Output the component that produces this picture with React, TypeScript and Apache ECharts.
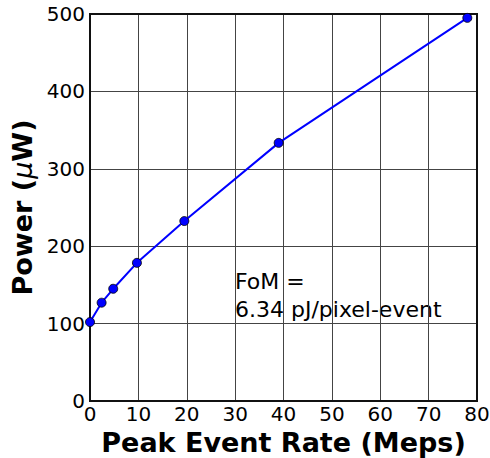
import React, { useEffect, useRef } from "react";
import * as echarts from "echarts";

const rates = [0, 2.4, 4.8, 9.7, 19.5, 39, 78];
const powers = [102, 127, 145, 178.5, 232.5, 333.5, 495];
const xTicks = { min: 0, max: 80, interval: 10 };
const yTicks = { min: 0, max: 500, interval: 100 };
const xLabel = "Peak Event Rate (Meps)";
const annotationLines = ["FoM =", "6.34 pJ/pixel-event"];

const FONT = "DejaVu Sans";

export default function App() {
  const ref = useRef<HTMLDivElement>(null);
  useEffect(() => {
    if (!ref.current) return;
    const chart = echarts.init(ref.current, undefined, { renderer: "svg" });
    chart.setOption({
      animation: false,
      backgroundColor: "#ffffff",
      grid: {
        left: 90,
        right: 13,
        top: 14,
        bottom: 57,
        containLabel: false,
        outerBoundsMode: "none",
        show: true,
        borderColor: "#111",
        borderWidth: 2,
        backgroundColor: "transparent",
        z: 10,
      },
      xAxis: {
        type: "value",
        min: xTicks.min,
        max: xTicks.max,
        interval: xTicks.interval,
        name: xLabel,
        nameLocation: "middle",
        nameGap: 25,
        nameTextStyle: { fontFamily: FONT, fontWeight: "bold", fontSize: 27, color: "#000" },
        axisLine: { show: false },
        axisTick: { show: false },
        axisLabel: { fontFamily: FONT, fontSize: 20, color: "#000", margin: 3 },
        splitLine: { show: true, lineStyle: { color: "#444", width: 1 } },
      },
      yAxis: {
        type: "value",
        min: yTicks.min,
        max: yTicks.max,
        interval: yTicks.interval,
        name: "{b|Power (}{i|μ}{b|W)}",
        nameLocation: "middle",
        nameGap: 49,
        nameRotate: 90,
        nameTextStyle: {
          rich: {
            b: { fontFamily: FONT, fontWeight: "bold", fontSize: 27, color: "#000" },
            i: { fontFamily: FONT, fontStyle: "italic", fontSize: 27, color: "#000" },
          },
        },
        axisLine: { show: false },
        axisTick: { show: false },
        axisLabel: { fontFamily: FONT, fontSize: 20, color: "#000", margin: 5 },
        splitLine: { show: true, lineStyle: { color: "#444", width: 1 } },
      },
      series: [
        {
          type: "line",
          data: rates.map((r, i) => [r, powers[i]]),
          lineStyle: { color: "#0000ff", width: 2 },
          symbol: "circle",
          symbolSize: 9,
          itemStyle: { color: "#0000ff", borderColor: "#000", borderWidth: 0.8 },
          clip: false,
          z: 20,
        },
      ],
      graphic: [
        {
          type: "text",
          left: 235,
          top: 267,
          style: {
            text: annotationLines.join("\n"),
            fontFamily: FONT,
            fontSize: 22,
            lineHeight: 28,
            fill: "#000",
          },
        },
      ],
    });
    return () => chart.dispose();
  }, []);
  return <div ref={ref} style={{ width: 490, height: 458, position: "absolute", left: 0, top: 0 }} />;
}
